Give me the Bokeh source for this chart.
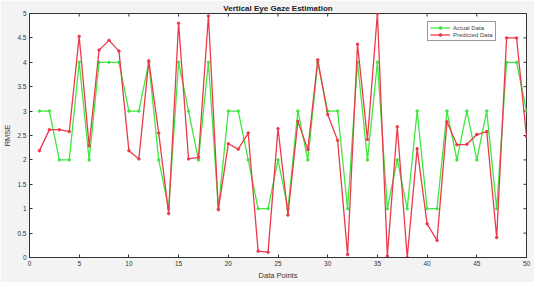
import math
from bokeh.plotting import figure
from bokeh.models import (Range1d, FixedTicker, CustomJSTickFormatter,
                          Legend, LegendItem)
from bokeh.embed import file_html
from bokeh.resources import INLINE

x_points = list(range(1, 51))
actual = [3, 3, 2, 2, 4, 2, 4, 4, 4, 3,
          3, 4, 2, 1, 4, 3, 2, 4, 1, 3,
          3, 2, 1, 1, 2, 1, 3, 2, 4, 3,
          3, 1, 4, 2, 4, 1, 2, 1, 3, 1,
          1, 3, 2, 3, 2, 3, 1, 4, 4, 3]
predicted = [2.19, 2.62, 2.62, 2.58, 4.53, 2.29, 4.25, 4.45, 4.23, 2.19,
             2.02, 4.03, 2.55, 0.90, 4.80, 2.02, 2.05, 4.95, 0.98, 2.33,
             2.22, 2.55, 0.13, 0.11, 2.64, 0.87, 2.79, 2.21, 4.05, 2.93,
             2.40, 0.06, 4.37, 2.42, 5.00, 0.03, 2.68, 0.00, 2.23, 0.69,
             0.35, 2.78, 2.31, 2.32, 2.52, 2.58, 0.41, 4.50, 4.50, 2.48]
x_ticks = [0, 5, 10, 15, 20, 25, 30, 35, 40, 45, 50]
y_ticks = [0, 0.5, 1, 1.5, 2, 2.5, 3, 3.5, 4, 4.5, 5]

GREEN = "#3fe83f"
RED = "#ec3a4a"
FONT = "Liberation Sans"
BG = "#f3f3f3"
AXC = "#333333"

p = figure(width=534, height=282, output_backend="svg", toolbar_location=None,
           x_range=Range1d(0, 50), y_range=Range1d(0, 5),
           min_border_left=4, min_border_right=8, min_border_top=4, min_border_bottom=4,
           background_fill_color="white", border_fill_color=BG,
           outline_line_color=AXC, outline_line_width=1)

p.title.text = "Vertical Eye Gaze Estimation"
p.title.align = "center"
p.title.text_font = FONT
p.title.text_font_size = "8px"
p.title.text_font_style = "bold"
p.title.text_color = "#222222"
p.title.standoff = 2
p.title.offset = 0

p.xgrid.visible = False
p.ygrid.visible = False

fmt = CustomJSTickFormatter(code="return String(Math.round(tick*10)/10);")

for ax in (p.xaxis[0], p.yaxis[0]):
    ax.axis_line_color = AXC
    ax.major_tick_line_color = AXC
    ax.minor_tick_line_color = None
    ax.major_tick_in = 3
    ax.major_tick_out = 0
    ax.major_label_text_font = FONT
    ax.major_label_text_color = AXC
    ax.major_label_text_font_size = "6.5px"
    ax.major_label_standoff = 3
    ax.axis_label_text_font = FONT
    ax.axis_label_text_font_style = "normal"
    ax.axis_label_text_color = AXC
    ax.axis_label_text_font_size = "7.5px"
    ax.axis_label_standoff = 2

p.xaxis.ticker = FixedTicker(ticks=x_ticks)
p.yaxis.ticker = FixedTicker(ticks=y_ticks)
p.xaxis.formatter = fmt
p.yaxis.formatter = fmt
p.xaxis.axis_label = "Data Points"
p.yaxis.axis_label = "RMSE"

# box-style inward ticks on the top and right edges (clipped to the frame)
p.scatter(x_ticks, [y_ticks[-1]] * len(x_ticks), marker="dash", angle=math.pi / 2,
          size=6, line_color=AXC, line_width=1)
p.scatter([x_ticks[-1]] * len(y_ticks), y_ticks, marker="dash",
          size=6, line_color=AXC, line_width=1)

g_line = p.line(x_points, actual, line_color=GREEN, line_width=1.3)
g_pts = p.scatter(x_points, actual, size=2.5, color=GREEN)
r_line = p.line(x_points, predicted, line_color=RED, line_width=1.3)
r_pts = p.scatter(x_points, predicted, size=2.5, color=RED)

legend = Legend(items=[LegendItem(label="Actual Data", renderers=[g_line, g_pts]),
                       LegendItem(label="Predicted Data", renderers=[r_line, r_pts])],
                location=(398, 216), orientation="vertical",
                label_text_font=FONT, label_text_font_size="6px",
                label_height=7, glyph_height=7, glyph_width=20,
                spacing=0, padding=2, margin=0, label_standoff=3,
                border_line_color=AXC, border_line_width=1,
                background_fill_color="white", background_fill_alpha=1)
p.add_layout(legend, "center")

open("out.html", "w").write(file_html(p, INLINE))
